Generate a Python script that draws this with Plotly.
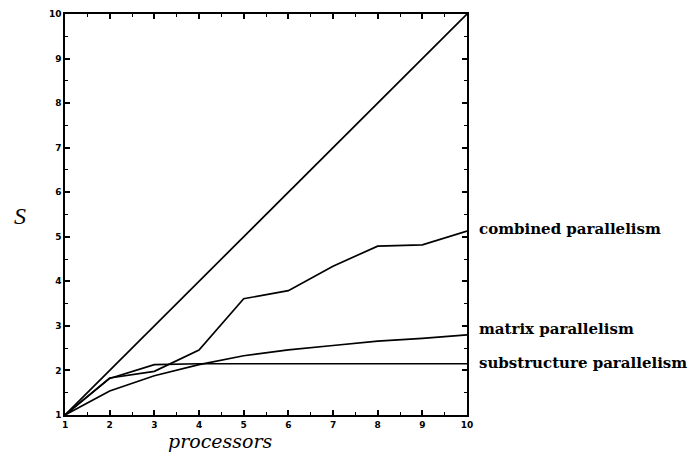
import plotly.graph_objects as go

processors = [1, 2, 3, 4, 5, 6, 7, 8, 9, 10]
ideal = [1, 2, 3, 4, 5, 6, 7, 8, 9, 10]
combined = [1, 1.83, 1.98, 2.46, 3.61, 3.79, 4.34, 4.79, 4.82, 5.13]
matrix = [1, 1.54, 1.88, 2.13, 2.33, 2.46, 2.56, 2.66, 2.72, 2.8]
substructure = [1, 1.82, 2.13, 2.15, 2.15, 2.15, 2.15, 2.15, 2.15, 2.15]

labels = ["combined parallelism", "matrix parallelism", "substructure parallelism"]
label_y = [5.18, 2.94, 2.16]

fig = go.Figure()
for ys in [ideal, combined, matrix, substructure]:
    fig.add_trace(go.Scatter(x=processors, y=ys, mode="lines",
                             line=dict(color="black", width=1.7),
                             showlegend=False, hoverinfo="skip"))

axis_common = dict(
    range=[1, 10], dtick=1, tick0=1, ticks="inside", ticklen=5, tickwidth=1.5,
    tickcolor="black", showline=True, linecolor="black", linewidth=1.5,
    mirror="allticks", showgrid=False, zeroline=False, automargin=False,
    tickfont=dict(family="DejaVu Sans", size=9, color="black", weight="bold"),
    minor=dict(dtick=0.5, tick0=1, ticks="inside", ticklen=3, tickwidth=1, tickcolor="black"),
)

fig.update_xaxes(**axis_common)
fig.update_yaxes(**axis_common)

for t, y in zip(labels, label_y):
    fig.add_annotation(x=1.025, xref="paper", y=y, yref="y", text=t, showarrow=False,
                       xanchor="left", yanchor="middle",
                       font=dict(family="DejaVu Serif", size=15, color="black", weight="bold"))

fig.add_annotation(x=0.386, xref="paper", y=-0.065, yref="paper", text="processors",
                   showarrow=False, xanchor="center", yanchor="middle", borderpad=0,
                   font=dict(family="DejaVu Serif", size=19, color="black", style="italic"))
fig.add_annotation(x=-0.112, xref="paper", y=0.496, yref="paper", text="S",
                   showarrow=False, xanchor="center", yanchor="middle",
                   font=dict(family="Liberation Serif", size=24, color="black", style="italic"))

fig.update_layout(
    width=688, height=445,
    margin=dict(l=57, r=229, t=6, b=38),
    plot_bgcolor="white", paper_bgcolor="white",
)

fig.write_html("out.html")
